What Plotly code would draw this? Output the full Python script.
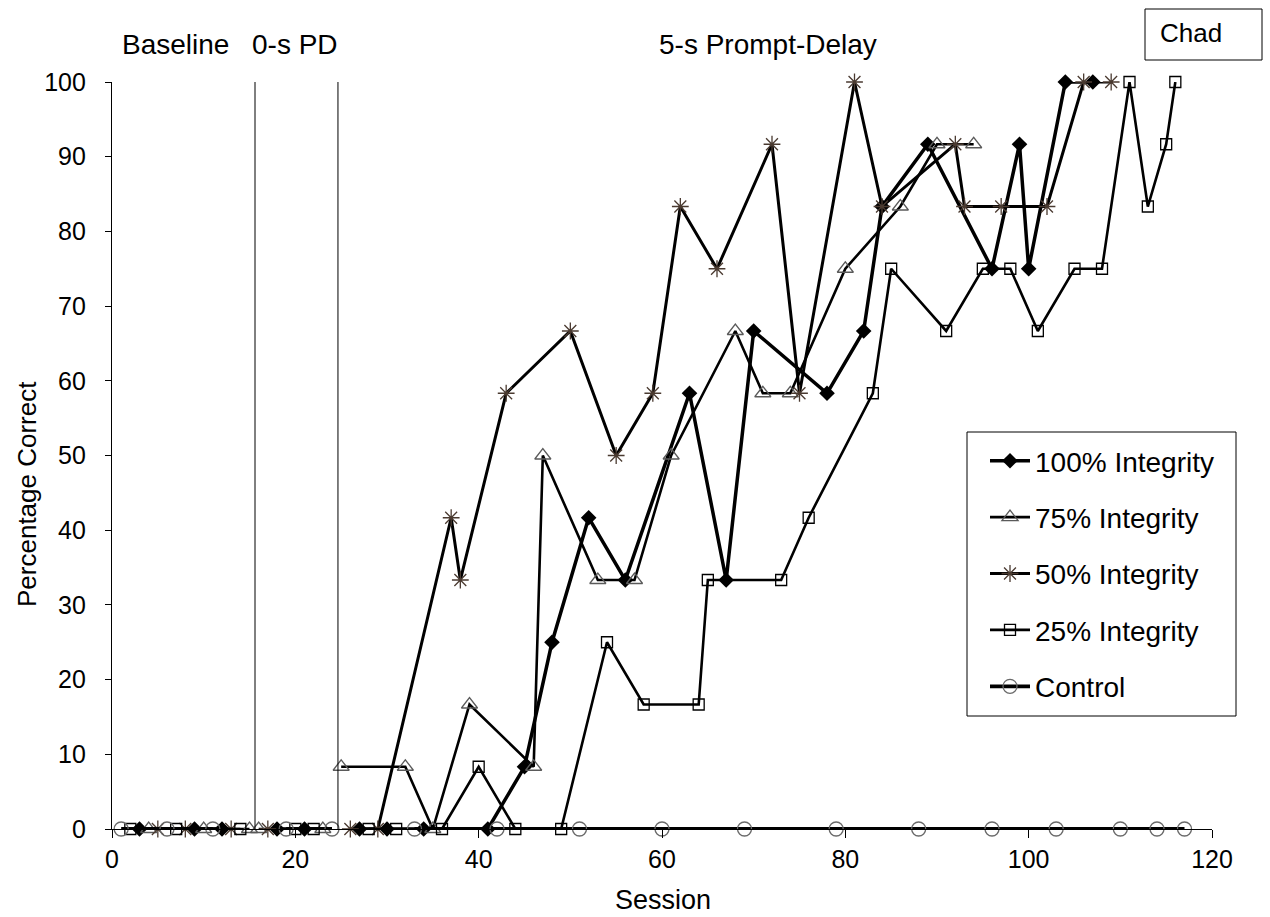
import plotly.graph_objects as go

# ---------------- data ----------------
# sessions / values per phase (baseline, 0-s PD, 5-s prompt delay)
s100_base = [3, 9, 12]
s100_pd0 = [18, 21]
s100_pd5 = [27, 30, 34, 41, 45, 48, 52, 56, 63, 67, 70, 78, 82, 84, 89, 96, 99, 100, 104, 107]
v100_pd5 = [0, 0, 0, 0, 8.33, 25, 41.67, 33.33, 58.33, 33.33, 66.67, 58.33, 66.67, 83.33,
            91.67, 75, 91.67, 75, 100, 100]

s75_base = [4, 10, 15]
s75_pd0 = [16, 23]
s75_pd5 = [25, 32, 35, 39, 46, 47, 53, 57, 61, 68, 71, 74, 80, 86, 90, 94]
v75_pd5 = [8.33, 8.33, 0, 16.67, 8.33, 50, 33.33, 33.33, 50, 66.67, 58.33, 58.33, 75, 83.33,
           91.67, 91.67]

s50_base = [5, 8, 13]
s50_pd0 = [17]
s50_pd5 = [26, 29, 37, 38, 43, 50, 55, 59, 62, 66, 72, 75, 81, 84, 92, 93, 97, 102, 106, 109]
v50_pd5 = [0, 0, 41.67, 33.33, 58.33, 66.67, 50, 58.33, 83.33, 75, 91.67, 58.33, 100, 83.33,
           91.67, 83.33, 83.33, 83.33, 100, 100]

s25_base = [2, 7, 14]
s25_pd0 = [20, 22]
s25_pd5 = [28, 31, 36, 40, 44, 49, 54, 58, 64, 65, 73, 76, 83, 85, 91, 95, 98, 101, 105, 108,
           111, 113, 115, 116]
v25_pd5 = [0, 0, 0, 8.33, 0, 0, 25, 16.67, 16.67, 33.33, 33.33, 41.67, 58.33, 75, 66.67, 75,
           75, 66.67, 75, 75, 100, 83.33, 91.67, 100]

sC_base = [1, 6, 11]
sC_pd0 = [19, 24]
sC_pd5 = [33, 42, 51, 60, 69, 79, 88, 96, 103, 110, 114, 117]

phase_lines = [15.6, 24.65]
phase_labels = ["Baseline", "0-s PD", "5-s Prompt-Delay"]
phase_label_x = [6.9, 20.0, 71.6]
x_ticks = [0, 20, 40, 60, 80, 100, 120]
y_ticks = [0, 10, 20, 30, 40, 50, 60, 70, 80, 90, 100]


def join(phases):
    xs, ys = [], []
    for i, (sx, sy) in enumerate(phases):
        if i:
            xs.append(None)
            ys.append(None)
        xs += list(sx)
        ys += list(sy)
    return xs, ys


def zeros(s):
    return [0] * len(s)


FONT = "Liberation Sans, Arial, sans-serif"

# plot area in pixels
L, R, T, B = 112, 1212, 82, 829
W, H = R - L, B - T


def px_x(p):
    return (p - L) / W


def px_y(p):
    return (B - p) / H


series = [
    ("100% Integrity",
     [(s100_base, zeros(s100_base)), (s100_pd0, zeros(s100_pd0)), (s100_pd5, v100_pd5)],
     dict(symbol="diamond", size=12, color="black", line=dict(width=0)), 3.5),
    ("75% Integrity",
     [(s75_base, zeros(s75_base)), (s75_pd0, zeros(s75_pd0)), (s75_pd5, v75_pd5)],
     dict(symbol="triangle-up-open", size=14, color="#5a5a5a", line=dict(width=1.3)), 2.6),
    ("50% Integrity",
     [(s50_base, zeros(s50_base)), (s50_pd0, zeros(s50_pd0)), (s50_pd5, v50_pd5)],
     dict(symbol="asterisk-open", size=14, color="#4a3a30", line=dict(width=1.3, color="#4a3a30")), 3.0),
    ("25% Integrity",
     [(s25_base, zeros(s25_base)), (s25_pd0, zeros(s25_pd0)), (s25_pd5, v25_pd5)],
     dict(symbol="square-open", size=11, color="black", line=dict(width=1.3)), 2.6),
    ("Control",
     [(sC_base, zeros(sC_base)), (sC_pd0, zeros(sC_pd0)), (sC_pd5, zeros(sC_pd5))],
     dict(symbol="circle-open", size=14, color="#6a6a6a", line=dict(width=1.3)), 3.8),
]

fig = go.Figure()
for i, (name, phases, mk, lw) in enumerate(series):
    xs, ys = join(phases)
    fig.add_trace(go.Scatter(
        x=xs, y=ys, name=name, mode="lines+markers",
        line=dict(color="black", width=lw),
        marker=mk, cliponaxis=False, connectgaps=False,
        legendgroup=f"g{i}",
    ))

shapes = []
for p in phase_lines:
    shapes.append(dict(type="line", xref="x", yref="y", x0=p, x1=p, y0=0, y1=100,
                       line=dict(color="black", width=1)))
# "Chad" box
shapes.append(dict(type="rect", xref="paper", yref="paper",
                   x0=px_x(1145), x1=px_x(1262), y0=px_y(60), y1=px_y(9),
                   line=dict(color="black", width=1), fillcolor="white", layer="below"))
# legend frame
shapes.append(dict(type="rect", xref="paper", yref="paper",
                   x0=px_x(967), x1=px_x(1236), y0=px_y(716), y1=px_y(432),
                   line=dict(color="black", width=1), fillcolor="white", layer="below"))

annotations = []
for lbl, lx in zip(phase_labels, phase_label_x):
    annotations.append(dict(text=lbl, x=lx, y=px_y(44), xref="x", yref="paper",
                            yanchor="middle", xanchor="center", showarrow=False,
                            font=dict(family=FONT, size=28, color="black")))
annotations.append(dict(text="Chad", x=px_x(1158), y=px_y(33),
                        xref="paper", yref="paper", xanchor="left", yanchor="middle",
                        showarrow=False, font=dict(family=FONT, size=26, color="black")))
# axis titles
annotations.append(dict(text="Session", x=px_x(663), y=px_y(900), xref="paper", yref="paper",
                        xanchor="center", yanchor="middle", showarrow=False,
                        font=dict(family=FONT, size=27, color="black")))
annotations.append(dict(text="Percentage Correct", x=px_x(27), y=px_y(494), xref="paper",
                        yref="paper", xanchor="center", yanchor="middle", textangle=-90,
                        showarrow=False, font=dict(family=FONT, size=26, color="black")))

fig.update_layout(
    width=1270, height=917,
    margin=dict(l=L, r=1270 - R, t=T, b=917 - B),
    paper_bgcolor="white", plot_bgcolor="white",
    font=dict(family=FONT, size=24, color="black"),
    showlegend=True,
    legend=dict(x=px_x(985), y=px_y(436), xanchor="left", yanchor="top",
                borderwidth=0, bgcolor="rgba(0,0,0,0)",
                font=dict(family=FONT, size=28, color="black"),
                tracegroupgap=17, itemwidth=40),
    shapes=shapes,
    annotations=annotations,
    xaxis=dict(range=[0, 120], tickvals=x_ticks, showgrid=False, zeroline=False,
               showline=True, linecolor="black", linewidth=1.2, ticks="outside",
               ticklen=8, tickcolor="black", tickfont=dict(family=FONT, size=25)),
    yaxis=dict(range=[0, 100], tickvals=y_ticks, showgrid=False, zeroline=False,
               showline=True, linecolor="black", linewidth=1.2, ticks="outside",
               ticklen=6, tickcolor="black", tickfont=dict(family=FONT, size=25),
               ticklabelstandoff=14),
)

fig.write_html("out.html")
